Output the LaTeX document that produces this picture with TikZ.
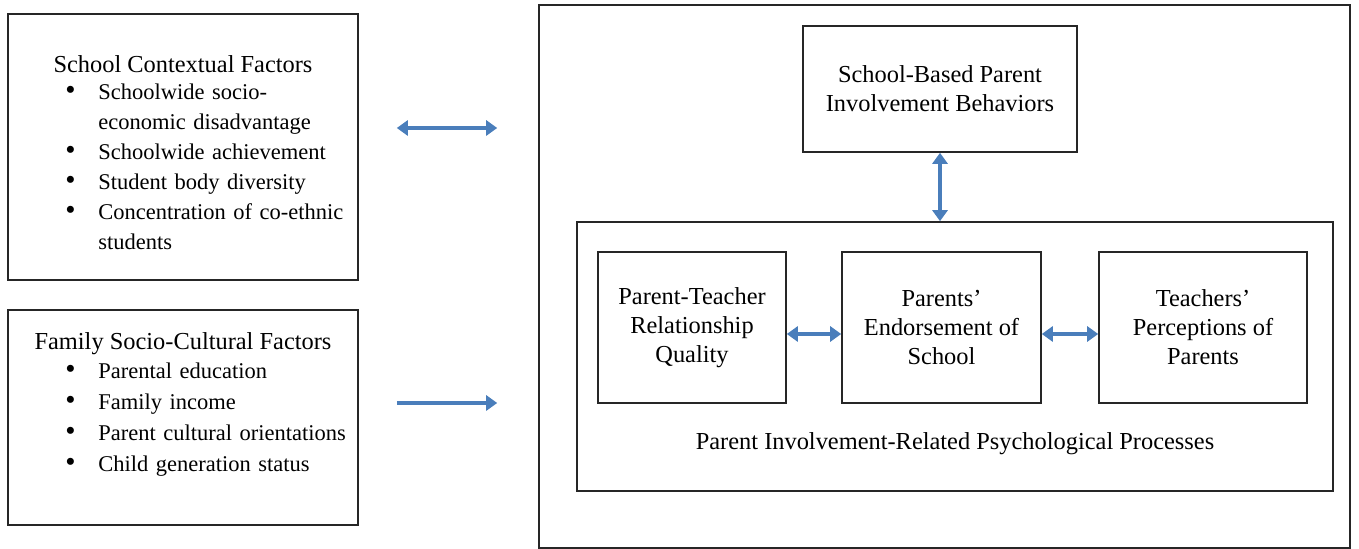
\documentclass[tikz,border=0pt]{standalone}
\usepackage{fontspec}
\setmainfont{Liberation Serif}
\usetikzlibrary{arrows.meta}
\usetikzlibrary{positioning}
\usetikzlibrary{calc}

\definecolor{arrowblue}{RGB}{74,126,187}
\tikzset{
  frame/.style={draw=black!85, line width=0.8pt, inner sep=0pt},
  boxtext/.style={align=center, font=\fontsize{12.2pt}{14.5pt}\selectfont},
  headtext/.style={font=\fontsize{12.2pt}{14.5pt}\selectfont, inner sep=0pt, anchor=base},
  listtext/.style={text width=150pt, align=left, inner sep=0pt, anchor=base west,
    font=\fontsize{11.25pt}{15pt}\selectfont},
  duallink/.style={draw=arrowblue, line width=2pt,
    {Triangle[length=5.5pt,width=7.5pt]}-{Triangle[length=5.5pt,width=7.5pt]}},
  link/.style={draw=arrowblue, line width=2pt, -{Triangle[length=5.5pt,width=7.5pt]}},
}
\newcommand{\bul}[1]{\hangindent=16.5pt\hangafter=1\noindent\makebox[16.5pt][l]{\scalebox{1.3}{\textbullet}}#1\par}

\begin{document}
\begin{tikzpicture}[x=0.5pt,y=-0.5pt]
\useasboundingbox (0,0) rectangle (1359,549);

% left column
\node[frame, minimum width=175pt, minimum height=133pt] (school) at (183,147) {};
\node[headtext] (schoolhead) at (183,73) {School Contextual Factors};
\node[listtext] (schoollist) at (65,100) {%
  \bul{Schoolwide socio-\newline economic disadvantage}
  \bul{Schoolwide achievement}
  \bul{Student body diversity}
  \bul{Concentration of co-ethnic\newline students}};

\node[frame, minimum width=175pt, minimum height=107.5pt] (family) at (183,417.5) {};
\node[headtext] (familyhead) at (183,350) {Family Socio-Cultural Factors};
\node[listtext, font=\fontsize{11.25pt}{15.5pt}\selectfont] (familylist) at (65,379) {%
  \bul{Parental education}
  \bul{Family income}
  \bul{Parent cultural orientations}
  \bul{Child generation status}};

% right side
\node[frame, minimum width=405.5pt, minimum height=271.5pt] (model) at (944.5,276.5) {};
\node[frame, boxtext, minimum width=137pt, minimum height=63pt] (behav) at (940,89)
  {School-Based Parent\\Involvement Behaviors};
\node[frame, minimum width=378pt, minimum height=134.5pt] (process) at (955,356.5) {};
\node[frame, boxtext, minimum width=94pt, minimum height=75.5pt] (ptrel) at (692,327.5)
  {Parent-Teacher\\Relationship\\Quality};
\node[frame, boxtext, minimum width=99.5pt, minimum height=75.5pt] (endorse) at (941.5,327.5)
  {Parents'\\Endorsement of\\School};
\node[frame, boxtext, minimum width=104pt, minimum height=75.5pt] (perceive) at (1203,327.5)
  {Teachers'\\Perceptions of\\Parents};
\node[headtext] (processhead) at (955,450) {Parent Involvement-Related Psychological Processes};

% arrows
\coordinate (schoolout) at ([shift={(38,-19)}]school.east);
\coordinate (familyout) at ([shift={(38,-14.5)}]family.east);
\draw[duallink, shorten >=20.5pt] (schoolout) -- (schoolout -| model.west);
\draw[link, shorten >=20.5pt] (familyout) -- (familyout -| model.west);
\draw[duallink] (behav.south) -- (behav.south |- process.north);
\draw[duallink] ([yshift=-3.25pt]ptrel.east) -- ([yshift=-3.25pt]endorse.west);
\draw[duallink] ([yshift=-3.25pt]endorse.east) -- ([yshift=-3.25pt]perceive.west);
\end{tikzpicture}
\end{document}
